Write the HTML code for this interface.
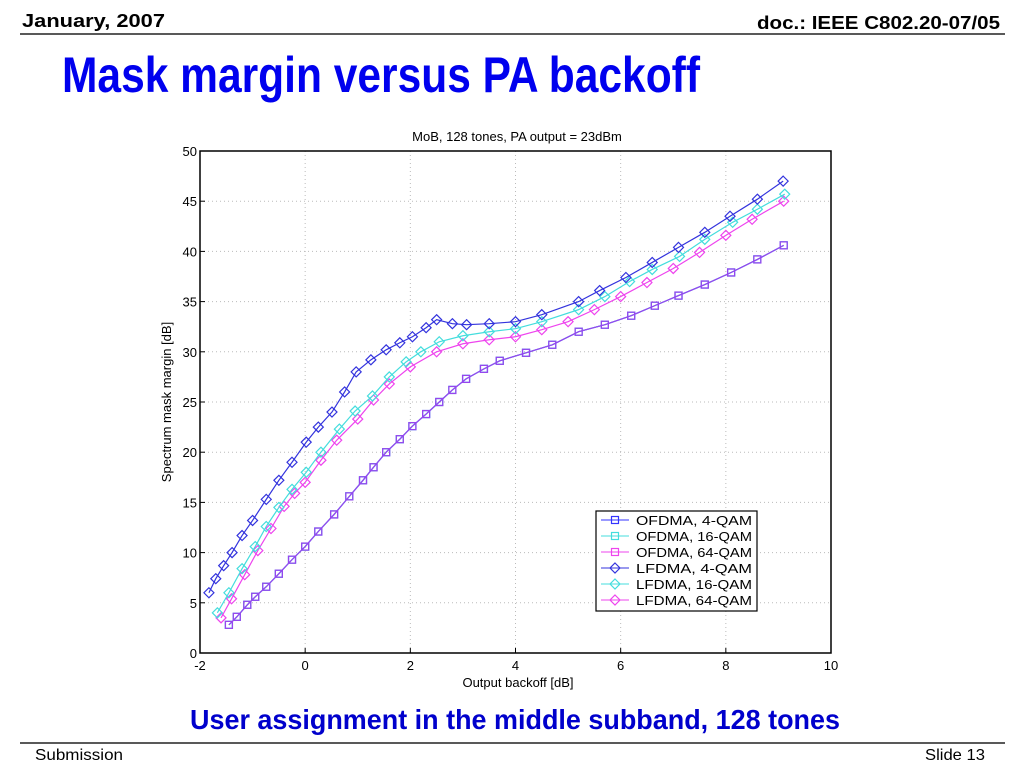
<!DOCTYPE html>
<html><head><meta charset="utf-8"><style>
html,body{margin:0;padding:0;background:#fff;width:1024px;height:768px;overflow:hidden}
svg{display:block}
text{font-family:"Liberation Sans",Arial,sans-serif}
</style></head><body>
<svg id="slide" width="1024" height="768" xmlns="http://www.w3.org/2000/svg">
<text x="22" y="27" font-size="18" font-weight="bold" textLength="143" lengthAdjust="spacingAndGlyphs">January, 2007</text>
<text x="1000" y="29" font-size="18" font-weight="bold" text-anchor="end" textLength="243" lengthAdjust="spacingAndGlyphs">doc.: IEEE C802.20-07/05</text>
<line x1="20" y1="34" x2="1005" y2="34" stroke="#222" stroke-width="1.5"/>
<text x="62" y="92" font-size="50" font-weight="bold" fill="#0000ee" textLength="638" lengthAdjust="spacingAndGlyphs">Mask margin versus PA backoff</text>
<text x="517" y="141" font-size="13" text-anchor="middle">MoB, 128 tones, PA output = 23dBm</text>
<g id="plot"></g>
<text x="518" y="687" font-size="13" text-anchor="middle">Output backoff [dB]</text>
<text x="0" y="0" font-size="13" text-anchor="middle" transform="translate(171,402) rotate(-90)">Spectrum mask margin [dB]</text>
<text x="515" y="729" font-size="28" font-weight="bold" fill="#0000cc" text-anchor="middle" textLength="650" lengthAdjust="spacingAndGlyphs">User assignment in the middle subband, 128 tones</text>
<line x1="20" y1="743" x2="1005" y2="743" stroke="#222" stroke-width="1.5"/>
<text x="35" y="760" font-size="16" textLength="88" lengthAdjust="spacingAndGlyphs">Submission</text>
<text x="985" y="760" font-size="16" text-anchor="end" textLength="60" lengthAdjust="spacingAndGlyphs">Slide 13</text>
</svg>
<script>
const xTicks=[-2,0,2,4,6,8,10];
const yTicks=[0,5,10,15,20,25,30,35,40,45,50];
const lf4X=[-1.83,-1.7,-1.55,-1.39,-1.2,-1.0,-0.74,-0.5,-0.25,0.02,0.25,0.51,0.75,0.97,1.25,1.54,1.8,2.04,2.3,2.5,2.8,3.07,3.5,4.0,4.5,5.2,5.6,6.1,6.6,7.1,7.6,8.08,8.6,9.09];
const lf4Y=[6.0,7.4,8.7,10.0,11.7,13.2,15.3,17.2,19.0,21.0,22.5,24.0,26.0,28.0,29.2,30.2,30.9,31.5,32.4,33.2,32.8,32.7,32.8,33.0,33.7,35.0,36.1,37.4,38.9,40.4,41.9,43.5,45.2,47.0];
const lf16X=[-1.67,-1.45,-1.2,-0.95,-0.74,-0.5,-0.25,0.02,0.3,0.65,0.95,1.28,1.6,1.92,2.2,2.55,3.0,3.5,4.0,4.5,5.2,5.7,6.17,6.6,7.12,7.6,8.13,8.6,9.12];
const lf16Y=[4.0,6.0,8.4,10.6,12.6,14.5,16.3,18.0,20.0,22.3,24.1,25.6,27.5,29.0,30.0,31.0,31.6,32.0,32.3,33.0,34.2,35.5,37.0,38.2,39.5,41.2,42.9,44.2,45.7];
const lf64X=[-1.6,-1.4,-1.15,-0.9,-0.65,-0.4,-0.2,0.0,0.3,0.6,1.0,1.3,1.6,2.0,2.5,3.0,3.5,4.0,4.5,5.0,5.5,6.0,6.5,7.0,7.5,8.0,8.5,9.1];
const lf64Y=[3.5,5.4,7.8,10.2,12.4,14.6,15.9,17.0,19.2,21.2,23.3,25.2,26.8,28.5,30.0,30.8,31.2,31.5,32.2,33.0,34.2,35.5,36.9,38.3,39.9,41.6,43.2,45.0];
const ofX=[-1.45,-1.3,-1.1,-0.95,-0.74,-0.5,-0.25,0.0,0.25,0.55,0.84,1.1,1.3,1.54,1.8,2.04,2.3,2.55,2.8,3.06,3.4,3.7,4.2,4.7,5.2,5.7,6.2,6.65,7.1,7.6,8.1,8.6,9.1];
const ofY=[2.8,3.6,4.8,5.6,6.6,7.9,9.3,10.6,12.1,13.8,15.6,17.2,18.5,20.0,21.3,22.6,23.8,25.0,26.2,27.3,28.3,29.1,29.9,30.7,32.0,32.7,33.6,34.6,35.6,36.7,37.9,39.2,40.6];
const seriesNames=["OFDMA,  4-QAM","OFDMA, 16-QAM","OFDMA, 64-QAM","LFDMA,  4-QAM","LFDMA, 16-QAM","LFDMA, 64-QAM"];

const L=200,R=831,T=151,B=653,xMin=-2,xMax=10,yMin=0,yMax=50;
const sx=v=>L+(v-xMin)/(xMax-xMin)*(R-L);
const sy=v=>B-(v-yMin)/(yMax-yMin)*(B-T);
const NS="http://www.w3.org/2000/svg";
const plot=document.getElementById('plot');
function mk(tag,attrs,parent){const e=document.createElementNS(NS,tag);for(const k in attrs)e.setAttribute(k,attrs[k]);(parent||plot).appendChild(e);return e;}

xTicks.forEach(t=>{
  if(t>xMin&&t<xMax){const g=mk('line',{x1:sx(t),x2:sx(t),y1:T,y2:B,stroke:'#bbb','stroke-dasharray':'1,3'});
  
  }
  const tk=mk('line',{x1:sx(t),x2:sx(t),y1:B,y2:B-5,stroke:'#000'});
  
  
  const tx=mk('text',{x:sx(t),y:B+17,'font-size':13,'text-anchor':'middle'});
  tx.textContent=t;
  
  
});
yTicks.forEach(t=>{
  if(t>yMin&&t<yMax){const g=mk('line',{x1:L,x2:R,y1:sy(t),y2:sy(t),stroke:'#bbb','stroke-dasharray':'1,3'});
  
  }
  const tk=mk('line',{x1:L,x2:L+5,y1:sy(t),y2:sy(t),stroke:'#000'});
  
  
  const tx=mk('text',{x:L-3,y:sy(t)+5,'font-size':13,'text-anchor':'end'});
  tx.textContent=t;
  
  
});
const frame=mk('rect',{x:L,y:T,width:R-L,height:B-T,fill:'none',stroke:'#000','stroke-width':1.5});



function marker(shape,x,y,color,parent){
  if(shape==='sq') return mk('rect',{x:x-3.5,y:y-3.5,width:7,height:7,fill:'none',stroke:color,'stroke-width':1.2},parent);
  return mk('polygon',{points:`${x},${y-5} ${x+5},${y} ${x},${y+5} ${x-5},${y}`,fill:'none',stroke:color,'stroke-width':1.2},parent);
}
function series(xs,ys,color,shape,name){
  const g=mk('g',{});
  
  
  mk('polyline',{points:xs.map((x,i)=>sx(x)+','+sy(ys[i])).join(' '),fill:'none',stroke:color,'stroke-width':1.2},g);
  xs.forEach((x,i)=>{const m=marker(shape,sx(x),sy(ys[i]),color,g);
    
    });
}
series(ofX,ofY,'#3333ff','sq','series-ofdma-4qam');
series(ofX,ofY,'#44dddd','sq','series-ofdma-16qam');
series(ofX,ofY,'#9944ee','sq','series-ofdma-64qam');
series(lf64X,lf64Y,'#ee44ee','di','series-lfdma-64qam');
series(lf16X,lf16Y,'#44dddd','di','series-lfdma-16qam');
series(lf4X,lf4Y,'#3333dd','di','series-lfdma-4qam');

const lg=mk('g',{});


mk('rect',{x:596,y:511,width:161,height:100,fill:'#fff',stroke:'#000','stroke-width':1.2},lg);
const lcol=['#3333ff','#44dddd','#ee44ee','#3333dd','#44dddd','#ee44ee'];
seriesNames.forEach((n,i)=>{
  const y=520+i*16;
  const e=mk('g',{},lg);
  
  
  mk('line',{x1:601,x2:629,y1:y,y2:y,stroke:lcol[i]},e);
  marker(i<3?'sq':'di',615,y,lcol[i],e);
  const t=mk('text',{x:636,y:y+5,'font-size':13,textLength:116,lengthAdjust:'spacingAndGlyphs'},e);
  t.textContent=n;
});
</script>
</body></html>
